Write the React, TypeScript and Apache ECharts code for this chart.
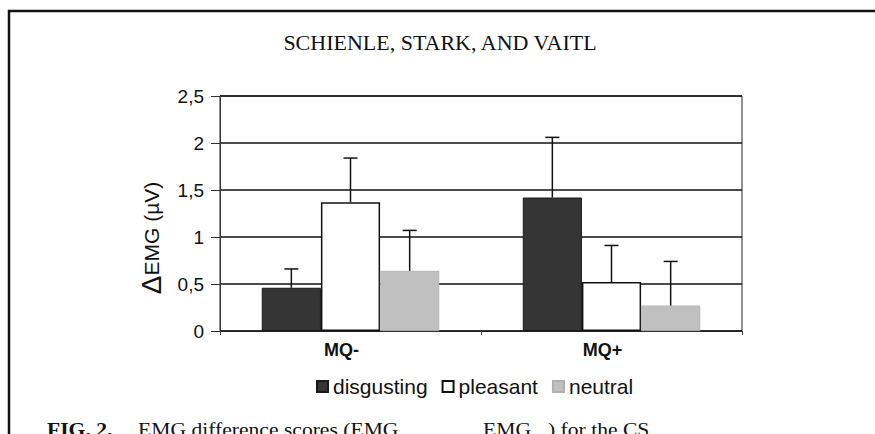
import React, { useEffect, useRef } from "react";
import * as echarts from "echarts";

const categories = ["MQ-", "MQ+"];
const seriesNames = ["disgusting", "pleasant", "neutral"];
const disgusting = [0.46, 1.42];
const pleasant = [1.37, 0.52];
const neutral = [0.64, 0.27];
const disgustingErr = [0.2, 0.64];
const pleasantErr = [0.47, 0.39];
const neutralErr = [0.43, 0.47];
const yTicks = [0, 0.5, 1, 1.5, 2, 2.5];

const title = "SCHIENLE, STARK, AND VAITL";
const yName = "EMG (µV)";

const CAT_GAP = 0.32;

export default function App() {
  const ref = useRef<HTMLDivElement>(null);
  useEffect(() => {
    if (!ref.current) return;
    const chart = echarts.init(ref.current, null, { renderer: "svg" });
    const means = [disgusting, pleasant, neutral];
    const errs = [disgustingErr, pleasantErr, neutralErr];
    const errData: number[][] = [];
    means.forEach((m, s) =>
      m.forEach((v, c) => errData.push([c, s, v, errs[s][c]]))
    );
    const sans = "'Liberation Sans', Arial, sans-serif";
    const serif = "'Liberation Serif', 'Times New Roman', serif";
    const styles = [
      { color: "#353535", borderColor: "#1a1a1a", borderWidth: 1 },
      { color: "#ffffff", borderColor: "#111111", borderWidth: 1.5 },
      { color: "#c0c0c0", borderColor: "#b0b0b0", borderWidth: 0.5 },
    ];
    chart.setOption({
      animation: false,
      backgroundColor: "#ffffff",
      grid: {
        left: 220,
        right: 133,
        top: 96,
        bottom: 103,
        show: true,
        borderColor: "#222",
        borderWidth: 1,
      },
      legend: {
        left: 311,
        top: 371,
        icon: "rect",
        itemWidth: 11,
        itemHeight: 11,
        itemGap: 14,
        textStyle: { fontSize: 21, fontFamily: sans, color: "#111" },
        data: seriesNames,
      },
      xAxis: {
        type: "category",
        data: categories,
        axisLine: { lineStyle: { color: "#222", width: 1 } },
        axisTick: { show: true, length: 4, lineStyle: { color: "#444" } },
        axisLabel: {
          fontSize: 18,
          fontWeight: "bold",
          fontFamily: sans,
          color: "#111",
          margin: 10,
          padding: [0, 18, 0, 0],
        },
      },
      yAxis: {
        type: "value",
        min: yTicks[0],
        max: yTicks[yTicks.length - 1],
        interval: 0.5,
        axisLine: { show: true, lineStyle: { color: "#333", width: 1 } },
        axisTick: { show: true, length: 9, lineStyle: { color: "#333" } },
        axisLabel: {
          fontSize: 19,
          fontFamily: sans,
          color: "#111",
          margin: 16,
          formatter: (v: number) => String(v).replace(".", ","),
        },
        splitLine: { lineStyle: { color: "#111", width: 1.5 } },
      },
      series: [
        ...seriesNames.map((name, i) => ({
          name,
          type: "bar",
          data: means[i],
          barGap: "0%",
          barCategoryGap: CAT_GAP * 100 + "%",
          itemStyle: styles[i],
          z: 2,
        })),
        {
          type: "custom",
          name: "error",
          data: errData,
          encode: { x: 0, y: 2 },
          z: 5,
          renderItem: (params: any, api: any) => {
            const c = api.value(0);
            const s = api.value(1);
            const m = api.value(2);
            const e = api.value(3);
            const base = api.coord([c, m]);
            const top = api.coord([c, m + e]);
            const band = api.size([1, 0])[0];
            const bw = (band * (1 - CAT_GAP)) / 3;
            const x = base[0] + (s - 1) * bw;
            const st = { stroke: "#111", lineWidth: 1.5 };
            return {
              type: "group",
              children: [
                { type: "line", shape: { x1: x, y1: base[1], x2: x, y2: top[1] }, style: st },
                { type: "line", shape: { x1: x - 7, y1: top[1], x2: x + 7, y2: top[1] }, style: st },
              ],
            };
          },
        },
      ],
      graphic: [
        { type: "line", shape: { x1: 8, y1: 11, x2: 875, y2: 11 }, style: { stroke: "#111", lineWidth: 2.5 } },
        { type: "line", shape: { x1: 9, y1: 10, x2: 9, y2: 434 }, style: { stroke: "#111", lineWidth: 2.5 } },
        {
          type: "text",
          x: 440,
          y: 43,
          scaleX: 1.1,
          style: {
            text: title,
            fontSize: 20,
            fontFamily: serif,
            fill: "#111",
            align: "center",
            verticalAlign: "middle",
          },
        },
        {
          type: "text",
          x: 151,
          y: 238,
          rotation: Math.PI / 2,
          style: {
            text: "{d|Δ}{e|" + yName + "}",
            align: "center",
            verticalAlign: "middle",
            rich: {
              d: { fontSize: 28, fontFamily: sans, fill: "#111" },
              e: { fontSize: 21, fontFamily: sans, fill: "#111" },
            },
          },
        },
        { type: "text", x: 47, y: 421, scaleX: 1.2, style: { text: "FIG. 2.", fontSize: 18, fontWeight: "bold", fontFamily: serif, fill: "#111", align: "left", verticalAlign: "top" } },
        { type: "text", x: 138, y: 421, scaleX: 1.2, style: { text: "EMG difference scores (EMG", fontSize: 18, fontFamily: serif, fill: "#111", align: "left", verticalAlign: "top" } },
        { type: "text", x: 483, y: 421, scaleX: 1.2, style: { text: "EMG", fontSize: 18, fontFamily: serif, fill: "#111", align: "left", verticalAlign: "top" } },
        { type: "text", x: 548, y: 421, scaleX: 1.2, style: { text: ") for the CS", fontSize: 18, fontFamily: serif, fill: "#111", align: "left", verticalAlign: "top" } },
      ],
    });
    return () => chart.dispose();
  }, []);
  return (
    <div
      ref={ref}
      style={{ position: "fixed", left: 0, top: 0, width: 875, height: 434, background: "#fff" }}
    />
  );
}
